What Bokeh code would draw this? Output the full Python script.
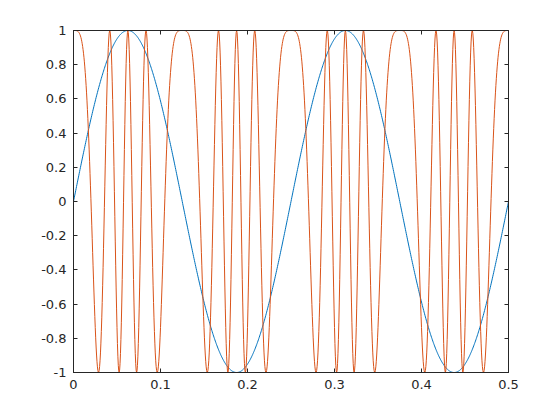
import numpy as np
from bokeh.plotting import figure
from bokeh.models import LinearAxis, FixedTicker, Range1d
from bokeh.embed import file_html
from bokeh.resources import INLINE

# --- data ---
t_start, t_end, t_step = 0.0, 0.5, 0.0005
carrier_hz = [4.0]            # blue sine: peaks at 0.0625, 0.3125
mod_depth = [4 * np.pi]       # red: cos(depth * cos(2*pi*f*t))
x_ticks = [0, 0.1, 0.2, 0.3, 0.4, 0.5]
x_labels = ["0", "0.1", "0.2", "0.3", "0.4", "0.5"]
y_ticks = [-1, -0.8, -0.6, -0.4, -0.2, 0, 0.2, 0.4, 0.6, 0.8, 1]
y_labels = ["-1", "-0.8", "-0.6", "-0.4", "-0.2", "0", "0.2", "0.4", "0.6", "0.8", "1"]

t = np.arange(t_start, t_end + t_step / 2, t_step)
blue_y = np.sin(2 * np.pi * carrier_hz[0] * t)
red_y = np.cos(mod_depth[0] * np.cos(2 * np.pi * carrier_hz[0] * t))

AX = "#262626"
FONT = "DejaVu Sans"
FS = "13px"

p = figure(width=544, height=404, output_backend="svg", toolbar_location=None,
           x_range=Range1d(0, 0.5), y_range=Range1d(-1, 1),
           min_border_left=73, min_border_right=36, min_border_top=30, min_border_bottom=32,
           x_axis_type=None, y_axis_type=None)
p.frame_width = 435
p.frame_height = 342
p.grid.visible = False
p.outline_line_color = AX
p.outline_line_width = 1
p.background_fill_color = "white"
p.border_fill_color = "white"

p.line(t, blue_y, line_color="#0072BD", line_width=1)
p.line(t, red_y, line_color="#D95319", line_width=1)

def make_axis(ticks, labels, show_labels):
    ax = LinearAxis(ticker=FixedTicker(ticks=ticks))
    ax.major_label_overrides = {tk: lb for tk, lb in zip(ticks, labels)}
    ax.axis_line_color = AX
    ax.major_tick_line_color = AX
    ax.major_tick_in = 4
    ax.major_tick_out = 0
    ax.minor_tick_line_color = None
    ax.major_label_text_font = FONT
    ax.major_label_text_font_size = FS
    ax.major_label_text_color = AX if show_labels else None
    ax.major_label_standoff = 7
    return ax

p.add_layout(make_axis(x_ticks, x_labels, True), "below")
p.add_layout(make_axis(y_ticks, y_labels, True), "left")
top = make_axis(x_ticks, x_labels, False)
top.major_label_text_font_size = "0px"
top.major_label_standoff = 0
right = make_axis(y_ticks, y_labels, False)
right.major_label_text_font_size = "0px"
right.major_label_standoff = 0
p.add_layout(top, "above")
p.add_layout(right, "right")

open("out.html", "w").write(file_html(p, INLINE))
